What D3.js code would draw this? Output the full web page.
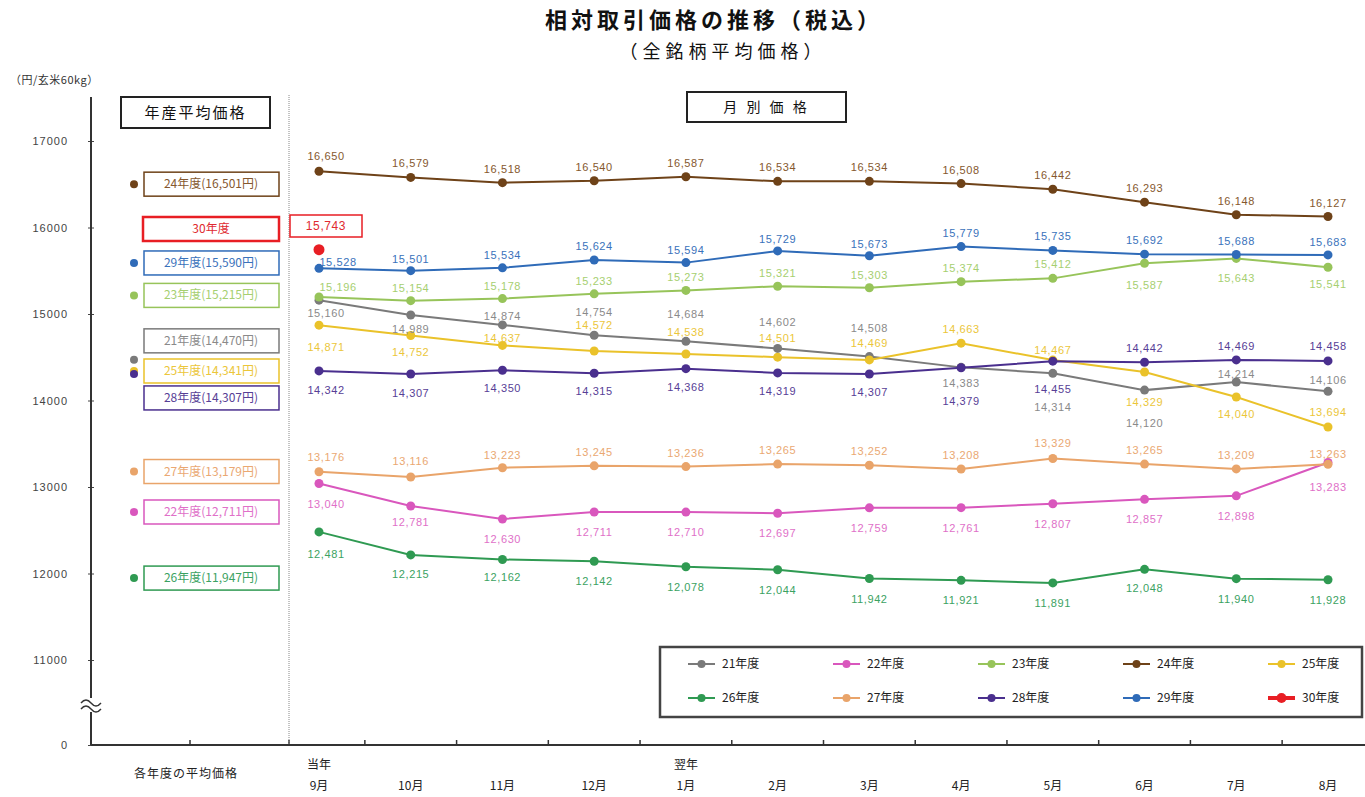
<!DOCTYPE html>
<html lang="ja">
<head>
<meta charset="utf-8">
<script src="https://cdn.jsdelivr.net/npm/d3@7"></script>
<style>
  html, body { margin: 0; padding: 0; background: #fff; }
  svg { display: block; font-family: "Noto Sans CJK JP", "Noto Sans", sans-serif; }
</style>
</head>
<body>
<svg id="chart" width="1365" height="797"></svg>
<script>
// ---- data -----------------------------------------------------------
const months = ["9月", "10月", "11月", "12月", "1月", "2月", "3月", "4月", "5月", "6月", "7月", "8月"];
const monthYearTags = ["当年", "", "", "", "翌年", "", "", "", "", "", "", ""];
const seriesNames = ["21年度", "22年度", "23年度", "24年度", "25年度", "26年度", "27年度", "28年度", "29年度", "30年度"];

const fy21 = [15160, 14989, 14874, 14754, 14684, 14602, 14508, 14383, 14314, 14120, 14214, 14106];
const fy22 = [13040, 12781, 12630, 12711, 12710, 12697, 12759, 12761, 12807, 12857, 12898, 13283];
const fy23 = [15196, 15154, 15178, 15233, 15273, 15321, 15303, 15374, 15412, 15587, 15643, 15541];
const fy24 = [16650, 16579, 16518, 16540, 16587, 16534, 16534, 16508, 16442, 16293, 16148, 16127];
const fy25 = [14871, 14752, 14637, 14572, 14538, 14501, 14469, 14663, 14467, 14329, 14040, 13694];
const fy26 = [12481, 12215, 12162, 12142, 12078, 12044, 11942, 11921, 11891, 12048, 11940, 11928];
const fy27 = [13176, 13116, 13223, 13245, 13236, 13265, 13252, 13208, 13329, 13265, 13209, 13263];
const fy28 = [14342, 14307, 14350, 14315, 14368, 14319, 14307, 14379, 14455, 14442, 14469, 14458];
const fy29 = [15528, 15501, 15534, 15624, 15594, 15729, 15673, 15779, 15735, 15692, 15688, 15683];
const fy30 = [15743];

// annual average price per crop year (30年度 has none yet)
const yearAverages = [14470, 12711, 15215, 16501, 14341, 11947, 13179, 14307, 15590, null];

const yTicks = [0, 11000, 12000, 13000, 14000, 15000, 16000, 17000];

// ---- styling ----------------------------------------------------------
const lineColors  = ["#7a7a7a", "#d957bd", "#97c45a", "#6e4218", "#eac22a", "#2f9a52", "#e9a46a", "#4a2f8e", "#2f6bb8", "#e81e24"];
const labelColors = ["#8a8a8a", "#e070c8", "#a6cf70", "#85582e", "#ebc63a", "#3ba262", "#eaa872", "#574096", "#3a72bb", "#e02a30"];

// label offsets (dy from the point) for every monthly value label
const labelDy = [
  [13, 14, -9, -23, -27, -26, -29, 16, 34, 33, -8, -11],
  [20, 16, 20, 20, 20, 20, 20, 20, 20, 20, 20, 24],
  [-10, -13, -13, -13, -13, -13, -13, -14, -14, 22, 20, 17],
  [-15, -14, -14, -14, -14, -14, -14, -14, -14, -14, -14, -14],
  [22, 17, -7, -26, -22, -19, -17, -14, -10, 30, 17, -15],
  [22, 19, 18, 20, 20, 20, 20, 20, 20, 19, 20, 20],
  [-15, -16, -13, -14, -14, -14, -14, -14, -16, -14, -14, -10],
  [19, 19, 18, 18, 18, 18, 18, 33, 28, -14, -14, -15],
  [-6, -12, -13, -14, -13, -12, -12, -14, -14, -14, -13, -13]
];

const svg = d3.select("#chart");

// ---- scales -----------------------------------------------------------
const y = d3.scaleLinear().domain([0, 11000, 17000]).range([745, 660, 141]);
const x = d3.scalePoint().domain(months).range([319, 1328]);
const step = x.step();
const fmt = d3.format(",");

// ---- titles -------------------------------------------------------------
svg.append("text").attr("x", 714).attr("y", 28).attr("text-anchor", "middle")
  .attr("font-size", 22).attr("font-weight", "bold").attr("letter-spacing", 4).attr("fill", "#111")
  .text("相対取引価格の推移（税込）");
svg.append("text").attr("x", 723).attr("y", 58).attr("text-anchor", "middle")
  .attr("font-size", 18).attr("letter-spacing", 5).attr("fill", "#111")
  .text("（全銘柄平均価格）");
svg.append("text").attr("x", 10).attr("y", 84)
  .attr("font-size", 11).attr("letter-spacing", 0.5).attr("fill", "#333")
  .text("（円/玄米60kg）");

// ---- axes ---------------------------------------------------------------
const yAxis = svg.append("g").attr("transform", "translate(91,0)")
  .call(d3.axisLeft(y).tickValues(yTicks).tickFormat(d3.format("d")).tickSize(3).tickPadding(20));
yAxis.select(".domain").remove();
yAxis.selectAll(".tick line").attr("x2", 3).attr("x1", -3).attr("stroke", "#444");
yAxis.selectAll(".tick text").attr("font-size", 11).attr("letter-spacing", 1)
  .attr("fill", "#444").attr("font-family", "Liberation Sans, sans-serif");
svg.append("line").attr("x1", 91).attr("x2", 91).attr("y1", 97).attr("y2", 745)
  .attr("stroke", "#333").attr("stroke-width", 2);

// x axis baseline with boundary ticks between months
svg.append("line").attr("x1", 91).attr("x2", 1365).attr("y1", 745).attr("y2", 745)
  .attr("stroke", "#333").attr("stroke-width", 2);
svg.append("g").selectAll("line").data(months).join("line")
  .attr("x1", d => x(d) + step / 2).attr("x2", d => x(d) + step / 2)
  .attr("y1", 745).attr("y2", 740).attr("stroke", "#333").attr("stroke-width", 1.5);
svg.append("g").selectAll("line").data([190, 289]).join("line")
  .attr("x1", d => d).attr("x2", d => d).attr("y1", 745).attr("y2", 740)
  .attr("stroke", "#333").attr("stroke-width", 1.5);

// axis break mark between 0 and 11000
const brk = svg.append("g").attr("transform", "translate(91,705)");
brk.append("rect").attr("x", -8).attr("y", -7).attr("width", 16).attr("height", 14).attr("fill", "#fff");
[-3, 3].forEach(dy => {
  brk.append("path").attr("d", `M-10,${dy + 1} q5,-6 10,0 t10,0`)
    .attr("fill", "none").attr("stroke", "#333").attr("stroke-width", 1.4);
});

// month labels
const xl = svg.append("g").attr("font-size", 12).attr("fill", "#222").attr("text-anchor", "middle");
xl.selectAll("text.m").data(months).join("text").attr("class", "m")
  .attr("x", d => x(d)).attr("y", 790).text(d => d);
xl.selectAll("text.t").data(monthYearTags.map((t, i) => ({ t, m: months[i] })).filter(d => d.t)).join("text")
  .attr("class", "t").attr("x", d => x(d.m)).attr("y", 769).text(d => d.t);
svg.append("text").attr("x", 186).attr("y", 778).attr("text-anchor", "middle")
  .attr("font-size", 12).attr("letter-spacing", 1).attr("fill", "#222").text("各年度の平均価格");

// separator between the annual and monthly panels
svg.append("line").attr("x1", 289).attr("x2", 289).attr("y1", 95).attr("y2", 745)
  .attr("stroke", "#888").attr("stroke-width", 1).attr("stroke-dasharray", "1,1");

// panel headers
function headerBox(x0, y0, w, h, label, size, spacing) {
  svg.append("rect").attr("x", x0).attr("y", y0).attr("width", w).attr("height", h)
    .attr("fill", "#fff").attr("stroke", "#222").attr("stroke-width", 2);
  svg.append("text").attr("x", x0 + w / 2).attr("y", y0 + h / 2 + 5).attr("text-anchor", "middle")
    .attr("font-size", size).attr("letter-spacing", spacing).attr("fill", "#111").text(label);
}
headerBox(121, 97, 149, 31, "年産平均価格", 15, 2);
headerBox(687, 92, 159, 30, "月 別 価 格", 14, 3);

// ---- annual averages (left panel) ---------------------------------------
const boxShift = { 0: -19, 7: 24 };   // nudge overlapping boxes apart
yearAverages.forEach((avg, i) => {
  if (avg === null) return;
  const cy = y(avg);
  const by = cy + (boxShift[i] || 0);
  svg.append("circle").attr("cx", 134).attr("cy", cy).attr("r", 4).attr("fill", lineColors[i]);
  svg.append("rect").attr("x", 144).attr("y", by - 12).attr("width", 135).attr("height", 24)
    .attr("fill", "#fff").attr("stroke", lineColors[i]).attr("stroke-width", 1.5);
  svg.append("text").attr("x", 211).attr("y", by + 4).attr("text-anchor", "middle")
    .attr("font-size", 12).attr("fill", labelColors[i])
    .text(`${seriesNames[i]}(${fmt(avg)}円)`);
});
// current year has no annual average yet
svg.append("rect").attr("x", 143).attr("y", 217).attr("width", 136).attr("height", 24)
  .attr("fill", "#fff").attr("stroke", lineColors[9]).attr("stroke-width", 2.5);
svg.append("text").attr("x", 211).attr("y", 233).attr("text-anchor", "middle")
  .attr("font-size", 12).attr("fill", labelColors[9]).text(seriesNames[9]);

// ---- monthly lines --------------------------------------------------------
const allSeries = [fy21, fy22, fy23, fy24, fy25, fy26, fy27, fy28, fy29];
const line = d3.line().x((d, i) => x(months[i])).y(d => y(d));
const plot = svg.append("g");
allSeries.forEach((vals, s) => {
  plot.append("path").datum(vals).attr("d", line)
    .attr("fill", "none").attr("stroke", lineColors[s]).attr("stroke-width", 2);
  plot.append("g").selectAll("circle").data(vals).join("circle")
    .attr("cx", (d, i) => x(months[i])).attr("cy", d => y(d)).attr("r", 4.5)
    .attr("fill", lineColors[s]);
});
// current year point
plot.append("circle").attr("cx", x(months[0])).attr("cy", y(fy30[0])).attr("r", 5.5).attr("fill", lineColors[9]);

// current year callout frame (drawn before the labels so its text stays on top)
svg.append("rect").attr("x", 290).attr("y", 215).attr("width", 72).attr("height", 22)
  .attr("fill", "#fff").attr("stroke", lineColors[9]).attr("stroke-width", 1.5);

// ---- value labels -------------------------------------------------------------
const labels = svg.append("g").attr("font-family", "Liberation Sans, sans-serif")
  .attr("font-size", 11).attr("letter-spacing", 0.6).attr("text-anchor", "middle");
allSeries.forEach((vals, s) => {
  labels.append("g").attr("fill", labelColors[s]).selectAll("text").data(vals).join("text")
    .attr("x", (d, i) => x(months[i]) + (i === 0 ? (s === 8 || s === 2 ? 19 : 7) : 0))
    .attr("y", (d, i) => y(d) + labelDy[s][i] + 4)
    .text(d => fmt(d));
});
labels.append("text").attr("x", 326).attr("y", 230).attr("fill", labelColors[9])
  .attr("font-size", 12).text(fmt(fy30[0]));

// ---- legend -----------------------------------------------------------------
const legend = svg.append("g");
legend.append("rect").attr("x", 660).attr("y", 647).attr("width", 702).attr("height", 70)
  .attr("fill", "#fff").attr("stroke", "#444").attr("stroke-width", 2.5);
seriesNames.forEach((name, i) => {
  const col = i % 5, row = Math.floor(i / 5);
  const lx = 688 + col * 145, ly = 664 + row * 34;
  const g = legend.append("g");
  g.append("line").attr("x1", lx).attr("x2", lx + 27).attr("y1", ly).attr("y2", ly)
    .attr("stroke", lineColors[i]).attr("stroke-width", i === 9 ? 4 : 2);
  g.append("circle").attr("cx", lx + 13.5).attr("cy", ly).attr("r", i === 9 ? 5 : 4).attr("fill", lineColors[i]);
  g.append("text").attr("x", lx + 34).attr("y", ly + 4).attr("font-size", 12).attr("fill", "#222").text(name);
});
</script>
</body>
</html>
